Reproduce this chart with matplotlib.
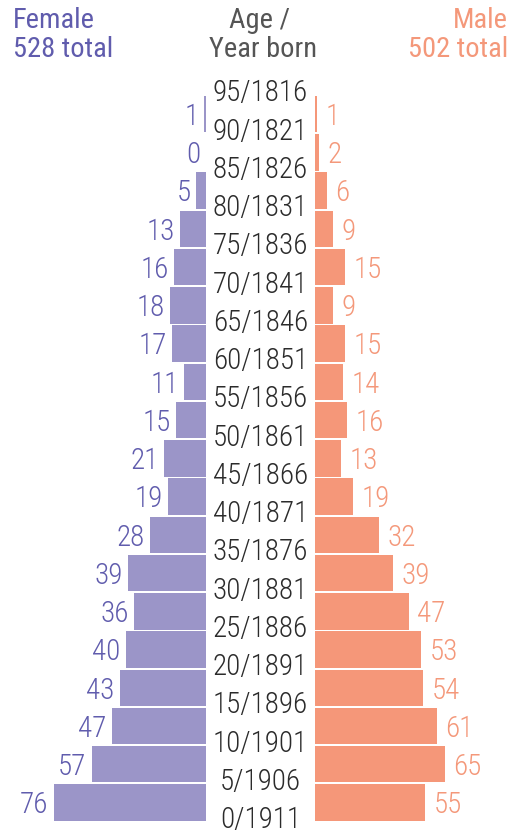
import numpy as np
import matplotlib
matplotlib.use("Agg")
import matplotlib.pyplot as plt
from matplotlib import font_manager
from matplotlib.transforms import blended_transform_factory

# pick a condensed face if the box has one
names = {f.name for f in font_manager.fontManager.ttflist}
family = 'Roboto Condensed' if 'Roboto Condensed' in names else 'Roboto'
plt.rcParams['font.family'] = [family, 'DejaVu Sans']

# data, bottom (age 0) to top
ages = [0, 5, 10, 15, 20, 25, 30, 35, 40, 45, 50, 55, 60, 65, 70, 75, 80, 85, 90, 95]
born = [1911, 1906, 1901, 1896, 1891, 1886, 1881, 1876, 1871, 1866,
        1861, 1856, 1851, 1846, 1841, 1836, 1831, 1826, 1821, 1816]
female = [76, 57, 47, 43, 40, 36, 39, 28, 19, 21, 15, 11, 17, 18, 16, 13, 5, 0, 1]
male = [55, 65, 61, 54, 53, 47, 39, 32, 19, 13, 16, 14, 15, 9, 15, 9, 6, 2, 1]
female_total = 528
male_total = 502

f_bar, f_txt = '#9b95c8', '#605cad'
m_bar, m_txt = '#f59779', '#f4987a'
grey = '#555555'
fs = 21
fs_head = 20.5

W, H = 513, 832
fig = plt.figure(figsize=(W / 100, H / 100), dpi=100)

y0, y1 = 821.7, 95.0  # pixel rows of age 0 and age 95
bottom = (H - y0) / H
height = (y0 - y1) / H
axf = fig.add_axes([0, bottom, 206 / W, height])
axm = fig.add_axes([315 / W, bottom, (W - 315) / W, height])

pos = np.arange(len(female)) + 0.5
axf.barh(pos, female, height=0.95, color=f_bar)
axm.barh(pos, male, height=0.95, color=m_bar)
axf.set_xlim(103, 0)
axm.set_xlim(0, 99)
for ax in (axf, axm):
    ax.set_ylim(0, 19)
    ax.axis('off')

for p, v in zip(pos, female):
    axf.annotate(str(v), (v, p), xytext=(-4, -2), textcoords='offset points',
                 ha='right', va='center', fontsize=fs, color=f_txt, fontweight='light')
for p, v in zip(pos, male):
    axm.annotate(str(v), (v, p), xytext=(6, -2), textcoords='offset points',
                 ha='left', va='center', fontsize=fs, color=m_txt, fontweight='light')

# age / year labels sit on the bin boundaries
tr = blended_transform_factory(fig.transFigure, axf.transData)
for a, b in zip(ages, born):
    axf.text(260.5 / W, a / 5 + 0.04, f'{a}/{b}', transform=tr, ha='center', va='center',
             fontsize=fs, color='#2b2b2b', fontweight='light')

# header
fig.text(13 / W, 1 - 28.3 / H, 'Female', ha='left', va='baseline', fontsize=fs_head, color=f_txt)
fig.text(13 / W, 1 - 56.7 / H, f'{female_total} total', ha='left', va='baseline',
         fontsize=fs_head, color=f_txt)
fig.text(508 / W, 1 - 28.3 / H, 'Male', ha='right', va='baseline', fontsize=fs_head, color=m_txt)
fig.text(508 / W, 1 - 56.7 / H, f'{male_total} total', ha='right', va='baseline',
         fontsize=fs_head, color=m_txt)
fig.text(260 / W, 1 - 28.3 / H, 'Age /', ha='center', va='baseline', fontsize=fs_head, color=grey)
fig.text(263 / W, 1 - 56.7 / H, 'Year born', ha='center', va='baseline', fontsize=fs_head, color=grey)

fig.savefig('out.png', dpi=100)
